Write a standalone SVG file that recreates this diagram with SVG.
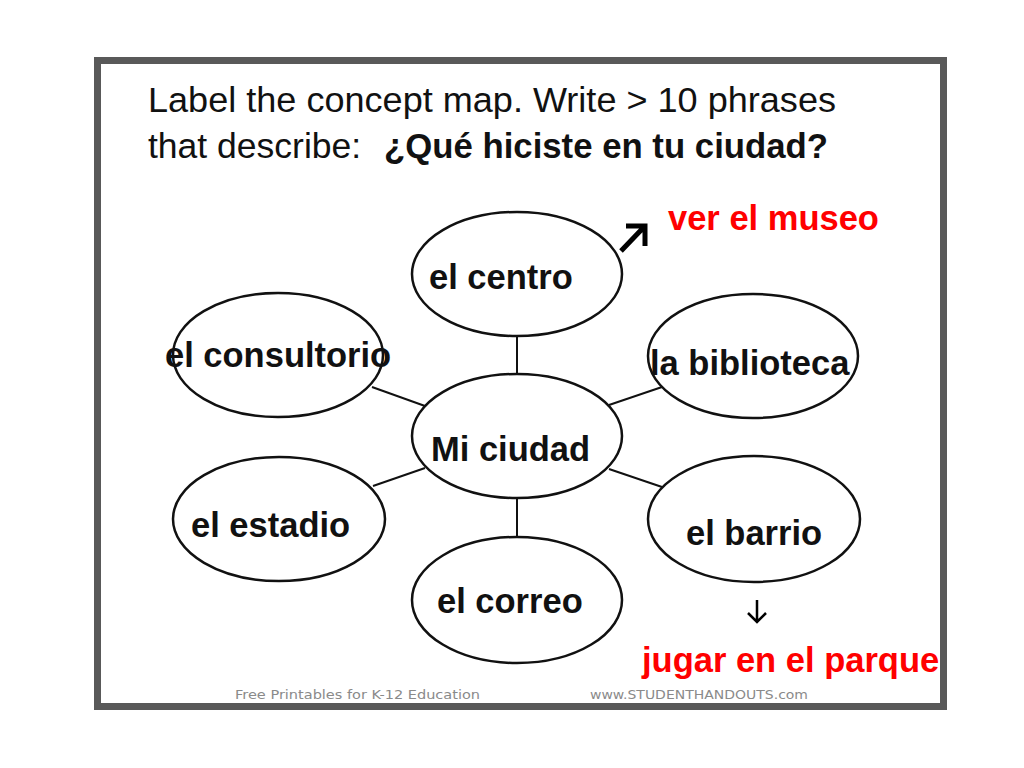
<svg xmlns="http://www.w3.org/2000/svg" width="1024" height="768" viewBox="0 0 1024 768">
<style>
.node ellipse{fill:#fff;stroke:#111;stroke-width:2.5}
.lbl{font-family:"Liberation Sans",Arial,sans-serif;font-weight:bold;font-size:34.5px;fill:#111}
.title{font-family:"Liberation Sans",Arial,sans-serif;font-size:35.5px;fill:#111}
.red{font-family:"Liberation Sans",Arial,sans-serif;font-weight:bold;font-size:34.5px;fill:#f00}
.foot{font-family:"DejaVu Sans","Liberation Sans",sans-serif;font-size:12px;fill:#8a8a8a}
.conn line{stroke:#111;stroke-width:2}
</style>
<rect width="1024" height="768" fill="#fff"/>
<rect x="97.5" y="60.5" width="846" height="646" fill="#fff" stroke="#595959" stroke-width="7"/>
<text class="title" x="148" y="112" textLength="688" lengthAdjust="spacingAndGlyphs">Label the concept map. Write &gt; 10 phrases</text>
<text class="title" y="158"><tspan x="148">that describe:</tspan><tspan x="384" font-weight="bold" textLength="444" lengthAdjust="spacingAndGlyphs">¿Qué hiciste en tu ciudad?</tspan></text>
<g id="connectors" class="conn">
<line x1="517" y1="336" x2="517" y2="375"/>
<line x1="517" y1="497" x2="517" y2="538"/>
<line x1="372" y1="387" x2="425" y2="406"/>
<line x1="609" y1="405" x2="662" y2="387"/>
<line x1="373" y1="486" x2="425" y2="468"/>
<line x1="609" y1="469" x2="662" y2="487"/>
</g>
<g id="n-centro" class="node"><ellipse cx="517" cy="274" rx="105" ry="62"/><text class="lbl" x="429" y="289">el centro</text></g>
<g id="n-consultorio" class="node"><ellipse cx="278" cy="355" rx="105" ry="62"/><text class="lbl" x="165" y="367">el consultorio</text></g>
<g id="n-biblioteca" class="node"><ellipse cx="753" cy="356" rx="105" ry="62"/><text class="lbl" x="650" y="375">la biblioteca</text></g>
<g id="n-miciudad" class="node"><ellipse cx="517" cy="436" rx="105" ry="62"/><text class="lbl" x="431" y="461">Mi ciudad</text></g>
<g id="n-estadio" class="node"><ellipse cx="279" cy="519" rx="106" ry="62"/><text class="lbl" x="191" y="537">el estadio</text></g>
<g id="n-barrio" class="node"><ellipse cx="754" cy="519" rx="106" ry="63"/><text class="lbl" x="686" y="545">el barrio</text></g>
<g id="n-correo" class="node"><ellipse cx="517" cy="600" rx="105" ry="63"/><text class="lbl" x="437" y="613">el correo</text></g>
<g id="arrows" fill="none" stroke="#000">
<path d="M621 251 L644 227 M626 226 H645 V246" stroke-width="5"/>
<path d="M757 600 V622 M748 613 L757 622 L766 613" stroke-width="2.5"/>
</g>
<text class="red" x="668" y="230">ver el museo</text>
<text class="red" x="642" y="672">jugar en el parque</text>
<text class="foot" x="235" y="699" textLength="245" lengthAdjust="spacingAndGlyphs">Free Printables for K-12 Education</text>
<text class="foot" x="590" y="699" textLength="218" lengthAdjust="spacingAndGlyphs">www.STUDENTHANDOUTS.com</text>
</svg>
